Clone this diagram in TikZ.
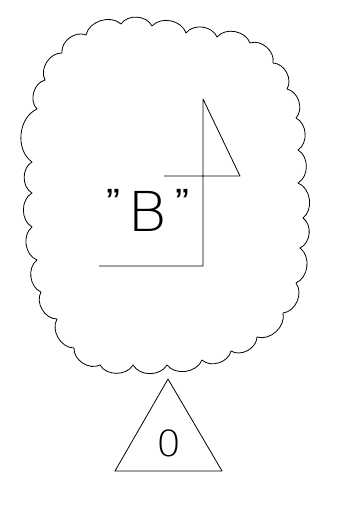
\documentclass[tikz,border=0pt]{standalone}
\usepackage{fontspec}
\newfontfamily\thinfont{DejaVu Sans ExtraLight}
\newfontfamily\quotefont{Liberation Sans}
\usetikzlibrary{positioning}

\tikzset{
  outline/.style={line width=0.8pt, line join=round},
  thinlabel/.style={inner sep=0pt, anchor=base}
}
\newcommand{\rquote}{\raisebox{17pt}{\quotefont\fontsize{38}{38}\selectfont”}}

\begin{document}
\begin{tikzpicture}[x=1pt,y=-1pt]
  \useasboundingbox (0,0) rectangle (362,510);
  % Cloud
  \draw[outline] (121,24)
    foreach \x/\y in {152/26,186/33,217/37,250/43,273/63,287/89,296/118,
      298/150,298/183,303/218,300/248,296/283,283/313,257/337,231/351,
      202/360,167/365,133/365,100/365,74/348,57/319,41/292,37/260,
      32/227,32/193,32/162,37/109,45/80,62/53,86/35,121/24}
    { to[bend left=60] (\x,\y) };
  % Flag inside the cloud
  \draw[outline] (99,266) -- (203,266) -- (203,99) -- (240,176) -- (164,176);
  \node[thinlabel, xscale=1.1, font=\thinfont\fontsize{55}{60}\selectfont] (name)
    at (147.5,232) {\rquote\kern7pt B\kern7pt\rquote};
  % Small triangle
  \draw[outline] (168,379) -- (222,471) -- (115,471) -- cycle;
  \node[thinlabel, xscale=1.1, font=\thinfont\fontsize{36}{40}\selectfont] (zero) at (169.5,456) {0};
\end{tikzpicture}
\end{document}
